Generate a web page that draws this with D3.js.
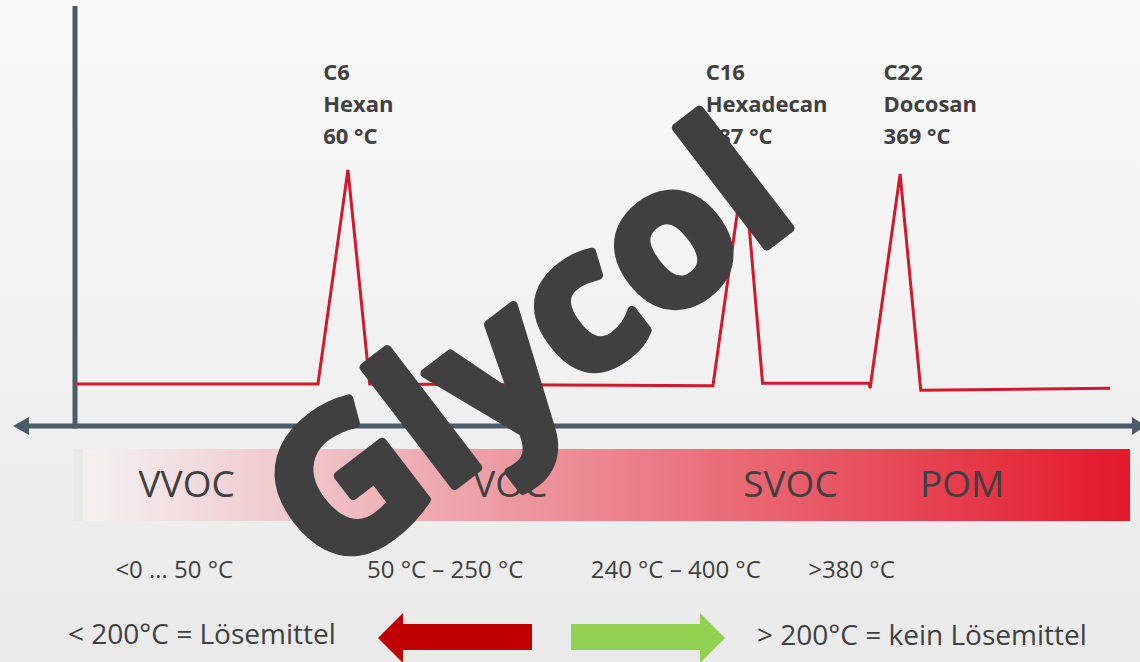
<!DOCTYPE html>
<html>
<head>
<meta charset="utf-8">
<script src="https://cdn.jsdelivr.net/npm/d3@7"></script>
<style>
  html, body { margin: 0; padding: 0; overflow: hidden; }
  body { width: 1140px; height: 662px; }
  svg { display: block; font-family: "Open Sans", "Noto Sans", sans-serif; }
</style>
</head>
<body>
<svg id="chart" width="1140" height="662"></svg>
<script>
// schematic chromatogram: x = retention (0..100), y = signal (0..100)
var signalX = [0, 23.4, 26.3, 28.4, 61.6, 64.6, 66.4, 76.7, 76.8, 79.7, 81.7, 100];
var signalY = [10, 10, 61, 10, 9.6, 62, 10.2, 10.2, 9, 60, 8.5, 9];

var peakNames = ["C6", "C16", "C22"];
var peakSubst = ["Hexan", "Hexadecan", "Docosan"];
var peakTemps = ["60 °C", "287 °C", "369 °C"];
var peakLabelAt = [23.9, 60.9, 78.1];

var categories = ["VVOC", "VOC", "SVOC", "POM"];
var categoryAt = [10.7, 42.0, 69.1, 85.7];
var rangeLabels = ["<0 … 50 °C", "50 °C – 250 °C", "240 °C – 400 °C", ">380 °C"];
var rangeAt = [9.5, 35.7, 58.0, 75.0];

var solventLabels = ["< 200°C = Lösemittel", "> 200°C = kein Lösemittel"];
var watermark = "Glycol";

var W = 1140, H = 662;
var svg = d3.select("#chart");
var defs = svg.append("defs");

var bg = defs.append("linearGradient").attr("id", "bg").attr("x1", 0).attr("y1", 0).attr("x2", 0).attr("y2", 1);
bg.append("stop").attr("offset", "0%").attr("stop-color", "#f9f9f9");
bg.append("stop").attr("offset", "100%").attr("stop-color", "#eaeaea");
svg.append("rect").attr("width", W).attr("height", H).attr("fill", "url(#bg)");

var x = d3.scaleLinear().domain([0, 100]).range([76, 1110]);
var y = d3.scaleLinear().domain([0, 100]).range([426, 6]);

var AXIS = "#4a5c68", RED = "#d2192b", TXT = "#404040";

// gradient band
var band = defs.append("linearGradient").attr("id", "band");
band.append("stop").attr("offset", "0%").attr("stop-color", "#e9e9e9");
band.append("stop").attr("offset", "0.8%").attr("stop-color", "#e9e9e9");
band.append("stop").attr("offset", "0.9%").attr("stop-color", "#f2f0f0");
band.append("stop").attr("offset", "2.5%").attr("stop-color", "#f3eff0");
band.append("stop").attr("offset", "100%").attr("stop-color", "#e3182b");
svg.append("rect").attr("x", 74).attr("y", 449).attr("width", 1056).attr("height", 72).attr("fill", "url(#band)");

svg.selectAll(".cat").data(categories).enter().append("text")
  .attr("class", "cat")
  .attr("x", function(d, i){ return x(categoryAt[i]); })
  .attr("y", 497)
  .attr("text-anchor", "middle")
  .attr("font-size", 37)
  .attr("fill", TXT)
  .text(function(d){ return d; });

svg.selectAll(".rng").data(rangeLabels).enter().append("text")
  .attr("class", "rng")
  .attr("x", function(d, i){ return x(rangeAt[i]); })
  .attr("y", 578)
  .attr("text-anchor", "middle")
  .attr("font-size", 24)
  .attr("fill", TXT)
  .text(function(d){ return d; });

// axes
svg.append("line").attr("x1", 22).attr("x2", 1136).attr("y1", y(0)).attr("y2", y(0))
  .attr("stroke", AXIS).attr("stroke-width", 5);
svg.append("line").attr("x1", 75).attr("x2", 75).attr("y1", y(100)).attr("y2", y(0) + 2.5)
  .attr("stroke", AXIS).attr("stroke-width", 5);
svg.append("path").attr("d", "M13," + y(0) + "L29," + (y(0) - 9) + "L29," + (y(0) + 9) + "Z").attr("fill", AXIS);
svg.append("path").attr("d", "M1146," + y(0) + "L1132," + (y(0) - 9) + "L1132," + (y(0) + 9) + "Z").attr("fill", AXIS);

// signal
var pts = signalX.map(function(v, i){ return [v, signalY[i]]; });
var line = d3.line().x(function(d){ return x(d[0]); }).y(function(d){ return y(d[1]); });
svg.append("path").datum(pts).attr("d", line)
  .attr("fill", "none").attr("stroke", RED).attr("stroke-width", 3).attr("stroke-linejoin", "miter");

// peak labels
var lab = svg.selectAll(".peak").data(peakNames).enter().append("text")
  .attr("class", "peak")
  .attr("x", function(d, i){ return x(peakLabelAt[i]); })
  .attr("y", 80)
  .attr("font-size", 22)
  .attr("font-weight", 700)
  .attr("fill", TXT);
lab.append("tspan").text(function(d){ return d; });
lab.append("tspan").attr("x", function(d, i){ return x(peakLabelAt[i]); }).attr("dy", 32).text(function(d, i){ return peakSubst[i]; });
lab.append("tspan").attr("x", function(d, i){ return x(peakLabelAt[i]); }).attr("dy", 32).text(function(d, i){ return peakTemps[i]; });

// bottom arrows and labels
svg.append("path").attr("d", "M378,638L403,613L403,624L532,624L532,650L403,650L403,663Z").attr("fill", "#c00000");
svg.append("path").attr("d", "M725,638L700,613L700,624L571,624L571,650L700,650L700,663Z").attr("fill", "#92d050");
svg.append("text").attr("x", 68).attr("y", 644).attr("font-size", 28).attr("fill", TXT).text(solventLabels[0]);
svg.append("text").attr("x", 757).attr("y", 645).attr("font-size", 28).attr("fill", TXT).text(solventLabels[1]);

// watermark
svg.append("text")
  .attr("transform", "translate(566,400) rotate(-37.5)")
  .attr("text-anchor", "middle")
  .attr("font-size", 196)
  .attr("font-weight", 700)
  .attr("fill", "#404040")
  .attr("stroke", "#404040")
  .attr("stroke-width", 9)
  .attr("stroke-linejoin", "round")
  .text(watermark);
</script>
</body>
</html>
